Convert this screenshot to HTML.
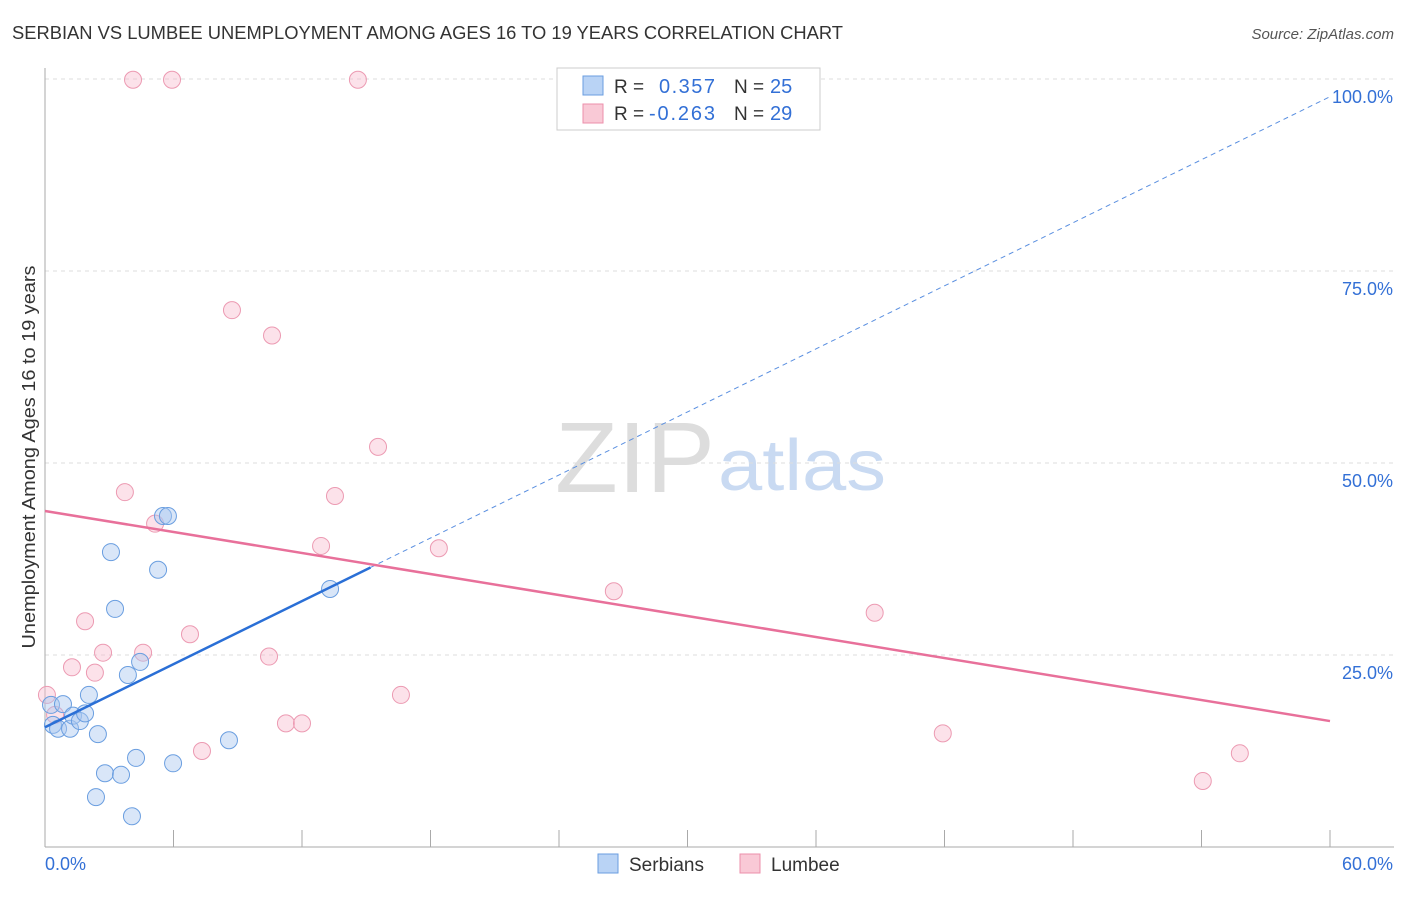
<!DOCTYPE html>
<html><head><meta charset="utf-8"><style>
body{margin:0;background:#fff;font-family:"Liberation Sans",sans-serif}
svg text{font-family:"Liberation Sans",sans-serif}
</style></head><body>
<svg id="c" width="1406" height="892">
<text x="12" y="39" font-size="18" fill="#333" textLength="831" lengthAdjust="spacingAndGlyphs">SERBIAN VS LUMBEE UNEMPLOYMENT AMONG AGES 16 TO 19 YEARS CORRELATION CHART</text>
<text x="1394" y="39" font-size="15" fill="#555" text-anchor="end" font-style="italic">Source: ZipAtlas.com</text>
<text x="35" y="457" font-size="18" fill="#333" text-anchor="middle" textLength="383" lengthAdjust="spacingAndGlyphs" transform="rotate(-90 35 457)">Unemployment Among Ages 16 to 19 years</text>
<text x="635" y="492" font-size="100" fill="#ddd" text-anchor="middle" font-family="Liberation Serif" textLength="160" lengthAdjust="spacingAndGlyphs">ZIP</text>
<text x="802" y="490" font-size="72" fill="#c9daf2" text-anchor="middle" textLength="168" lengthAdjust="spacingAndGlyphs">atlas</text>
<g id="axes"></g>
<g id="marks"></g>
<g>
<rect x="557" y="68" width="263" height="62" fill="#fff" stroke="#ccc"/>
<rect x="583" y="76" width="20" height="19" fill="#b9d3f5" stroke="#6a9ee0"/>
<text x="614" y="93" font-size="19" fill="#333">R = </text><text x="659" y="93" font-size="20" fill="#3370d6" textLength="56">0.357</text>
<text x="734" y="93" font-size="19" fill="#333">N = </text><text x="770" y="93" font-size="20" fill="#3370d6">25</text>
<rect x="583" y="104" width="20" height="19" fill="#f9c9d6" stroke="#ec8fab"/>
<text x="614" y="120" font-size="19" fill="#333">R = </text><text x="649" y="120" font-size="20" fill="#3370d6" textLength="66">-0.263</text>
<text x="734" y="120" font-size="19" fill="#333">N = </text><text x="770" y="120" font-size="20" fill="#3370d6">29</text>
</g>
<g>
<rect x="598" y="854" width="20" height="19" fill="#b9d3f5" stroke="#6a9ee0"/>
<text x="629" y="871" font-size="19" fill="#333">Serbians</text>
<rect x="740" y="854" width="20" height="19" fill="#f9c9d6" stroke="#ec8fab"/>
<text x="771" y="871" font-size="19" fill="#333">Lumbee</text>
</g>
</svg>
<script>
const serbX=[0.28,0.37,0.61,0.84,1.17,1.31,1.63,1.87,2.05,2.47,2.38,2.80,3.08,3.27,3.55,3.87,4.06,4.25,4.44,5.28,5.51,5.74,5.98,8.59,13.31];
const serbY=[18.5,15.9,15.4,18.6,15.4,17.1,16.4,17.4,19.8,14.7,6.5,9.6,38.4,31.0,9.4,22.4,4.0,11.6,24.1,36.1,43.1,43.1,10.9,13.9,33.6];
const lumX=[0.09,0.47,1.26,1.87,2.33,2.71,3.73,4.11,4.58,5.14,5.93,6.77,7.33,8.73,10.46,10.60,11.25,12.00,12.89,13.54,14.61,15.55,16.62,18.39,26.56,38.74,41.92,54.06,55.79];
const lumY=[19.8,17.2,23.4,29.4,22.7,25.3,46.2,99.9,25.3,42.1,99.9,27.7,12.5,69.9,24.8,66.6,16.1,16.1,39.2,45.7,99.9,52.1,19.8,38.9,33.3,30.5,14.8,8.6,12.2];
const serbTrend=[15.6,97.7];const serbSolidEnd=15.2;
const lumTrend=[43.75,16.4];
const yTicks=[25,50,75,100];
const xTickVals=[0,6,12,18,24,30,36,42,48,54,60];
const X=v=>45+v*1285/60, Y=v=>847-v*7.68;
const NS='http://www.w3.org/2000/svg';
function mk(p,t,a){const e=document.createElementNS(NS,t);for(const k in a)e.setAttribute(k,a[k]);p.appendChild(e);return e;}
const ax=document.getElementById('axes'),mg=document.getElementById('marks');
yTicks.forEach(v=>{const l=mk(ax,'line',{x1:45,x2:1394,y1:Y(v),y2:Y(v),stroke:'#ddd','stroke-dasharray':'4,4'});


const t=mk(ax,'text',{x:1393,y:Y(v)+24,'font-size':18,fill:'#3370d6','text-anchor':'end'});t.textContent=v.toFixed(1)+'%';

});
mk(ax,'line',{x1:45,x2:45,y1:68,y2:847,stroke:'#aaa'});
mk(ax,'line',{x1:45,x2:1394,y1:847,y2:847,stroke:'#aaa'});
xTickVals.forEach(v=>{const l=mk(ax,'line',{x1:X(v),x2:X(v),y1:830,y2:847,stroke:'#aaa'});

});
let t=mk(ax,'text',{x:45,y:870,'font-size':18,fill:'#3370d6'});t.textContent='0.0%';


t=mk(ax,'text',{x:1393,y:870,'font-size':18,fill:'#3370d6','text-anchor':'end'});t.textContent='60.0%';


lumX.forEach((x,i)=>{const c=mk(mg,'circle',{cx:X(x),cy:Y(lumY[i]),r:8.5,fill:'rgba(249,190,208,0.45)',stroke:'#ec9ab2','stroke-width':1});

});
serbX.forEach((x,i)=>{const c=mk(mg,'circle',{cx:X(x),cy:Y(serbY[i]),r:8.5,fill:'rgba(170,200,240,0.45)',stroke:'#6a9ee0','stroke-width':1});

});
const sy=x=>serbTrend[0]+(serbTrend[1]-serbTrend[0])*x/60;
let l=mk(mg,'line',{x1:X(0),y1:Y(sy(0)),x2:X(serbSolidEnd),y2:Y(sy(serbSolidEnd)),stroke:'#2a6fd6','stroke-width':2.5});


l=mk(mg,'line',{x1:X(serbSolidEnd),y1:Y(sy(serbSolidEnd)),x2:X(60),y2:Y(sy(60)),stroke:'#5a8fe0','stroke-width':1,'stroke-dasharray':'5,4'});


l=mk(mg,'line',{x1:X(0),y1:Y(lumTrend[0]),x2:X(60),y2:Y(lumTrend[1]),stroke:'#e8709a','stroke-width':2.5});


</script>
</body></html>
